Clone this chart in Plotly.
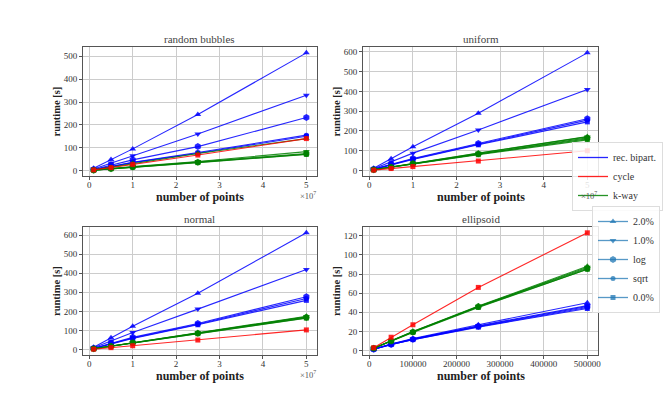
import plotly.graph_objects as go

# ---------------- data ----------------
X_LARGE = [1e6, 5e6, 1e7, 2.5e7, 5e7]
X_ELLIPSOID = [1e4, 5e4, 1e5, 2.5e5, 5e5]
VARIANTS = ["2.0%", "1.0%", "log", "sqrt", "0.0%"]
ALGORITHMS = ["rec. bipart.", "cycle", "k-way"]
TITLES = ["random bubbles", "uniform", "normal", "ellipsoid"]
X_LABEL = "number of points"
Y_LABEL = "runtime [s]"

# rec. bipart. runtimes [s], one list per variant (2.0%, 1.0%, log, sqrt, 0.0%)
bubbles_rec = [[10, 48, 95, 245, 515], [7, 33, 65, 160, 330], [5, 25, 47, 105, 232],
               [4, 19, 36, 79, 155], [4, 18, 35, 76, 150]]
uniform_rec = [[12, 60, 120, 290, 595], [9, 45, 88, 205, 410], [7, 32, 61, 137, 262],
               [6, 30, 58, 133, 255], [6, 29, 56, 130, 246]]
normal_rec = [[12, 62, 122, 295, 612], [9, 45, 90, 212, 420], [7, 33, 64, 137, 277],
              [6, 31, 61, 133, 268], [6, 29, 58, 130, 258]]
ellipsoid_rec = [[1.5, 7, 12.5, 27, 50], [1.5, 7, 12, 26, 47], [1.5, 6.5, 12, 25.5, 46],
                 [1.5, 6.5, 11.5, 25, 45], [1.5, 6.5, 11.5, 24.5, 44]]

# cycle runtimes [s]
bubbles_cycle = [3, 13, 27, 68, 140]
uniform_cycle = [2, 10, 20, 48, 100]
normal_cycle = [2, 10, 20, 50, 103]
ellipsoid_cycle = [3, 14, 27, 66, 123]

# k-way runtimes [s], one list per variant
bubbles_kway = [[3, 15, 32, 75, 140], [2, 9, 18, 40, 83], [2, 8, 16, 37, 75],
                [2, 8, 15, 36, 72], [2, 8, 15, 35, 71]]
uniform_kway = [[4, 18, 36, 88, 172], [4, 18, 36, 87, 170], [4, 17, 35, 85, 165],
                [4, 17, 34, 83, 160], [4, 17, 33, 80, 155]]
normal_kway = [[4, 18, 37, 88, 175], [4, 18, 37, 87, 172], [4, 18, 36, 86, 170],
               [4, 17, 35, 84, 166], [4, 17, 35, 83, 165]]
ellipsoid_kway = [[2.5, 10.5, 20, 46.5, 88], [2.5, 10.5, 20, 46, 87], [2.5, 10, 19.5, 46, 86],
                  [2.5, 10, 19.5, 45.5, 85], [2.5, 10, 19, 45, 85]]

X_TICKS_LARGE = [0, 1e7, 2e7, 3e7, 4e7, 5e7]
X_TICKTEXT_LARGE = ["0", "1", "2", "3", "4", "5"]
X_TICKS_ELL = [0, 1e5, 2e5, 3e5, 4e5, 5e5]
X_TICKTEXT_ELL = ["0", "100000", "200000", "300000", "400000", "500000"]

# ---------------- styling ----------------
FONT = "Liberation Serif"
ALG_COLORS = {"rec. bipart.": "rgba(0,0,255,0.85)", "cycle": "rgba(255,0,0,0.85)",
              "k-way": "rgba(0,128,0,0.85)"}
MARKERS = {"2.0%": "triangle-up", "1.0%": "triangle-down", "log": "hexagon",
           "sqrt": "circle", "0.0%": "square"}
MSIZE = {"2.0%": 6, "1.0%": 6, "log": 7, "sqrt": 5, "0.0%": 5}
LEG2_COLOR = "rgba(31,119,180,0.75)"

W, H = 664, 399
def px_x(a, b):
    return [a / W, b / W]
def px_y(top, bottom):
    return [1 - bottom / H, 1 - top / H]

domains = [
    (px_x(83, 317), px_y(47, 176)),
    (px_x(363, 598), px_y(47, 176)),
    (px_x(83, 317), px_y(227, 355)),
    (px_x(363, 598), px_y(227, 355)),
]

datasets = [
    (X_LARGE, bubbles_rec, bubbles_cycle, bubbles_kway),
    (X_LARGE, uniform_rec, uniform_cycle, uniform_kway),
    (X_LARGE, normal_rec, normal_cycle, normal_kway),
    (X_ELLIPSOID, ellipsoid_rec, ellipsoid_cycle, ellipsoid_kway),
]

fig = go.Figure()
annotations = []
layout_axes = {}

for i, (xs, rec, cyc, kway) in enumerate(datasets):
    n = i + 1
    xa = "x" if n == 1 else f"x{n}"
    ya = "y" if n == 1 else f"y{n}"
    # rec. bipart.
    for v, ys in zip(VARIANTS, rec):
        fig.add_trace(go.Scatter(x=xs, y=ys, mode="lines+markers", xaxis=xa, yaxis=ya,
                                 line=dict(color=ALG_COLORS["rec. bipart."], width=1.1),
                                 marker=dict(symbol=MARKERS[v], size=MSIZE[v],
                                             color=ALG_COLORS["rec. bipart."]),
                                 showlegend=False, hoverinfo="skip"))
    # k-way
    for v, ys in zip(VARIANTS, kway):
        fig.add_trace(go.Scatter(x=xs, y=ys, mode="lines+markers", xaxis=xa, yaxis=ya,
                                 line=dict(color=ALG_COLORS["k-way"], width=1.1),
                                 marker=dict(symbol=MARKERS[v], size=MSIZE[v],
                                             color=ALG_COLORS["k-way"]),
                                 showlegend=False, hoverinfo="skip"))
    # cycle
    fig.add_trace(go.Scatter(x=xs, y=cyc, mode="lines+markers", xaxis=xa, yaxis=ya,
                             line=dict(color=ALG_COLORS["cycle"], width=1.1),
                             marker=dict(symbol="square", size=5, color=ALG_COLORS["cycle"]),
                             showlegend=False, hoverinfo="skip"))

    allx = list(xs)
    ally = [y for s in rec + kway for y in s] + list(cyc)
    xspan = max(allx) - min(allx)
    yspan = max(ally) - min(ally)
    xr = [min(allx) - 0.05 * xspan, max(allx) + 0.05 * xspan]
    yr = [min(ally) - 0.05 * yspan, max(ally) + 0.05 * yspan]

    dx, dy = domains[i]
    large = xs is X_LARGE
    axis_common = dict(showline=True, mirror=True, linecolor="#555555", linewidth=1,
                       showgrid=True, gridcolor="#cccccc", gridwidth=1, zeroline=False,
                       ticks="outside", ticklen=3, tickcolor="#555555", automargin=False,
                       tickfont=dict(family=FONT, size=9, color="#333333"))
    layout_axes["xaxis" if n == 1 else f"xaxis{n}"] = dict(
        axis_common, domain=dx, range=xr, anchor=ya, ticklabelstandoff=-3,
        tickvals=X_TICKS_LARGE if large else X_TICKS_ELL,
        ticktext=X_TICKTEXT_LARGE if large else X_TICKTEXT_ELL)
    layout_axes["yaxis" if n == 1 else f"yaxis{n}"] = dict(
        axis_common, domain=dy, range=yr, anchor=xa,
        dtick=100 if large else 20)

    xc = (dx[0] + dx[1]) / 2
    yc = (dy[0] + dy[1]) / 2
    # subplot title
    annotations.append(dict(text=TITLES[i], xref="paper", yref="paper",
                            x=xc, y=dy[1], xanchor="center", yanchor="bottom",
                            yshift=0, showarrow=False,
                            font=dict(family=FONT, size=11, color="#444444")))
    # x-axis title
    annotations.append(dict(text=f"<b>{X_LABEL}</b>", xref="paper", yref="paper",
                            x=xc, y=dy[0], xanchor="center", yanchor="middle",
                            yshift=-21, showarrow=False,
                            font=dict(family=FONT, size=12, color="#222222")))
    # y-axis title
    annotations.append(dict(text=f"<b>{Y_LABEL}</b>", xref="paper", yref="paper",
                            x=dx[0], y=yc, xanchor="center", yanchor="middle",
                            xshift=-27, textangle=-90, showarrow=False,
                            font=dict(family=FONT, size=10.5, color="#222222")))
    if large:
        annotations.append(dict(text="×10<sup>7</sup>", xref="paper", yref="paper",
                                x=dx[1] + 1 / W, y=dy[0], xanchor="right", yanchor="top",
                                yshift=-12, showarrow=False,
                                font=dict(family=FONT, size=8.5, color="#555555")))

# legend 1: algorithms
for alg in ALGORITHMS:
    fig.add_trace(go.Scatter(x=[None], y=[None], mode="lines", name=alg,
                             line=dict(color=ALG_COLORS[alg], width=1.3),
                             legend="legend", showlegend=True))
# legend 2: variants
for v in VARIANTS:
    fig.add_trace(go.Scatter(x=[None], y=[None], mode="lines+markers", name=v,
                             line=dict(color=LEG2_COLOR, width=1.3),
                             marker=dict(symbol=MARKERS[v], size=MSIZE[v], color=LEG2_COLOR),
                             legend="legend2", showlegend=True))

legend_common = dict(bgcolor="rgba(255,255,255,0.85)", bordercolor="#dddddd", borderwidth=1,
                     font=dict(family=FONT, size=10, color="#333333"),
                     xanchor="right", yanchor="top", tracegroupgap=0,
                     itemwidth=30)

fig.update_layout(
    width=W, height=H,
    margin=dict(l=0, r=0, t=0, b=0, autoexpand=False),
    paper_bgcolor="white", plot_bgcolor="white",
    showlegend=True,
    legend=dict(legend_common, x=663 / W, y=1 - 142 / H),
    legend2=dict(legend_common, x=660 / W, y=1 - 206 / H),
    annotations=annotations,
    **layout_axes,
)

fig.write_html("out.html", config={"displayModeBar": False},
               post_script="document.body.style.margin='0px';document.body.style.padding='0px';")
